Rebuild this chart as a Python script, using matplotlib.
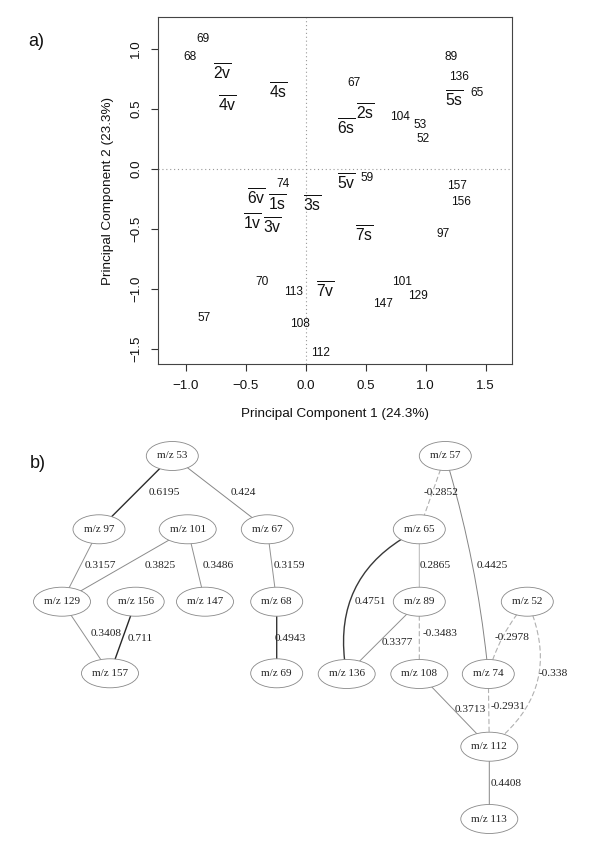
import numpy as np
import matplotlib
matplotlib.use('Agg')
import matplotlib.pyplot as plt
from matplotlib.patches import Ellipse, FancyArrowPatch

plt.rcParams['font.family'] = ['Liberation Sans', 'DejaVu Sans']
plt.rcParams['mathtext.fontset'] = 'custom'
plt.rcParams['mathtext.rm'] = 'Liberation Sans'
plt.rcParams['mathtext.it'] = 'Liberation Sans'

# ---------------- panel a) data: PCA loadings (m/z) ----------------
var_labels = ['69', '68', '89', '136', '65', '67', '104', '53', '52', '59', '74',
              '157', '156', '97', '70', '113', '101', '129', '147', '57', '108', '112']
var_x = [-0.858, -0.964, 1.211, 1.280, 1.430, 0.403, 0.786, 0.953, 0.975, 0.514, -0.186,
         1.258, 1.292, 1.147, -0.367, -0.103, 0.800, 0.939, 0.647, -0.845, -0.047, 0.125]
var_y = [1.083, 0.936, 0.931, 0.764, 0.636, 0.714, 0.430, 0.367, 0.253, -0.072, -0.125,
         -0.139, -0.272, -0.542, -0.944, -1.028, -0.939, -1.058, -1.128, -1.244, -1.292, -1.531]

# PCA scores (sample means)
sample_labels = ['2v', '4v', '4s', '5s', '2s', '6s', '5v', '6v', '1s', '3s', '1v', '3v', '7s', '7v']
sample_x = [-0.692, -0.650, -0.225, 1.236, 0.500, 0.336, 0.336, -0.414, -0.236, 0.053,
            -0.442, -0.275, 0.489, 0.161]
sample_y = [0.800, 0.532, 0.643, 0.577, 0.465, 0.341, -0.112, -0.237, -0.287, -0.301,
            -0.445, -0.479, -0.545, -1.015]

x_ticks = [-1.0, -0.5, 0.0, 0.5, 1.0, 1.5]
y_ticks = [-1.5, -1.0, -0.5, 0.0, 0.5, 1.0]
x_title = 'Principal Component 1 (24.3%)'
y_title = 'Principal Component 2 (23.3%)'

# ---------------- panel b) data: correlation network ----------------
node_ids = ['53', '97', '101', '67', '129', '156', '147', '68', '157', '69',
            '57', '65', '89', '52', '136', '108', '74', '112', '113']
node_px = [172.3, 99.0, 187.7, 267.3, 62.0, 135.7, 205.0, 276.7, 110.0, 276.7,
           445.3, 419.3, 419.3, 527.3, 346.7, 419.3, 488.3, 489.3, 489.3]
node_py = [456.0, 529.3, 529.3, 529.3, 601.7, 601.7, 601.7, 601.7, 673.3, 673.3,
           456.0, 529.3, 601.7, 601.7, 674.0, 674.0, 674.0, 746.7, 819.0]

edge_src = ['53', '53', '97', '101', '101', '67', '129', '156', '68',
            '57', '57', '65', '65', '89', '89', '52', '52', '108', '74', '112']
edge_dst = ['97', '67', '129', '129', '147', '68', '157', '157', '69',
            '65', '74', '89', '136', '136', '108', '74', '112', '112', '112', '113']
edge_r = [0.6195, 0.424, 0.3157, 0.3825, 0.3486, 0.3159, 0.3408, 0.711, 0.4943,
          -0.2852, 0.4425, 0.2865, 0.4751, 0.3377, -0.3483, -0.2978, -0.338, 0.3713, -0.2931, 0.4408]
edge_curv = [0, 0, 0, 0, 0, 0, 0, 0, 0,
             0, -0.05, 0, 0.38, 0, 0, 0.12, -0.4, 0, 0, 0]
edge_lab_px = [164.0, 243.3, 100.0, 160.7, 218.3, 289.3, 106.0, 140.0, 290.0,
               441.0, 492.7, 435.0, 370.7, 397.3, 440.0, 511.7, 553.3, 470.7, 508.3, 505.7]
edge_lab_py = [492.7, 492.7, 565.0, 565.0, 565.0, 565.0, 633.3, 638.3, 638.3,
               492.7, 565.0, 565.0, 601.7, 642.7, 633.3, 637.7, 674.0, 710.0, 706.7, 783.3]

# ---------------- figure ----------------
W, H = 600, 848
fig = plt.figure(figsize=(W / 100, H / 100), dpi=100)

# network layer (pixel coordinate canvas)
ax2 = fig.add_axes([0, 0, 1, 1])
ax2.set_xlim(0, W)
ax2.set_ylim(H, 0)
ax2.axis('off')

ax = fig.add_axes([157.7 / W, 1 - 364.3 / H, (512.3 - 157.7) / W, (364.3 - 17.0) / H])
ax.set_xlim(-1.233, 1.722)
ax.set_ylim(-1.628, 1.267)
ax.axhline(0, color='#999999', lw=0.8, ls=(0, (1, 2.5)))
ax.axvline(0, color='#999999', lw=0.8, ls=(0, (1, 2.5)))
for lab, x, y in zip(var_labels, var_x, var_y):
    ax.text(x, y, lab, ha='center', va='center', fontsize=8.6, color='#111111')
for lab, x, y in zip(sample_labels, sample_x, sample_y):
    ax.text(x, y, r'$\overline{\mathrm{%s}}$' % lab, ha='center', va='center',
            fontsize=11.3, color='#111111')
ax.set_xticks(x_ticks)
ax.set_xticklabels(['\u22121.0', '\u22120.5', '0.0', '0.5', '1.0', '1.5'])
ax.set_yticks(y_ticks)
ax.set_yticklabels(['\u22121.5', '\u22121.0', '\u22120.5', '0.0', '0.5', '1.0'],
                   rotation=90, va='center')
ax.tick_params(direction='out', length=5, width=0.8, colors='#333333',
               labelsize=9.6, pad=6, labelcolor='#111111')
for s in ax.spines.values():
    s.set_color('#444444')
    s.set_linewidth(0.8)
ax.set_xlabel(x_title, fontsize=9.7, color='#111111')
ax.set_ylabel(y_title, fontsize=9.7, color='#111111')
ax.xaxis.set_label_coords(0.5, -50 / 347.3)
ax.xaxis.label.set_va('center')
ax.yaxis.set_label_coords(-49.5 / 354.6, 0.5)
ax.yaxis.label.set_va('center')
ax.patch.set_alpha(0)

fig.text(36.7 / W, 1 - 41 / H, 'a)', fontsize=13, ha='center', va='center', color='#111111')
fig.text(38 / W, 1 - 464 / H, 'b)', fontsize=13, ha='center', va='center', color='#111111')

# nodes
serif = ['Liberation Serif', 'DejaVu Serif']
patches = {}
for nid, x, y in zip(node_ids, node_px, node_py):
    w = 52 if len(nid) == 2 else 57
    e = Ellipse((x, y), w, 29, facecolor='white', edgecolor='#888888', lw=0.6, zorder=3)
    ax2.add_patch(e)
    patches[nid] = e
    ax2.text(x, y, 'm/z ' + nid, ha='center', va='center', fontsize=8,
             family=serif, color='#222222', zorder=4)

pos = {n: (x, y) for n, x, y in zip(node_ids, node_px, node_py)}
for a, b, r, c, lx, ly in zip(edge_src, edge_dst, edge_r, edge_curv, edge_lab_px, edge_lab_py):
    mag = abs(r)
    if r < 0:
        col = '#b0b0b0'
        ls = (0, (4, 3))
        lw = 0.8
    else:
        g = np.interp(mag, [0.28, 0.30, 0.45, 0.47, 0.72], [0.78, 0.58, 0.52, 0.22, 0.15])
        col = (g, g, g)
        ls = '-'
        lw = 0.7 if mag < 0.46 else 1.0
    arr = FancyArrowPatch(pos[a], pos[b], patchA=patches[a], patchB=patches[b],
                          arrowstyle='-', connectionstyle='arc3,rad=%s' % c,
                          color=col, lw=lw, linestyle=ls, zorder=2,
                          shrinkA=0, shrinkB=0)
    ax2.add_patch(arr)
    ax2.text(lx, ly, '%g' % r, ha='center', va='center', fontsize=8.2,
             family=serif, color='#222222', zorder=4)

fig.savefig('out.png', dpi=100)
